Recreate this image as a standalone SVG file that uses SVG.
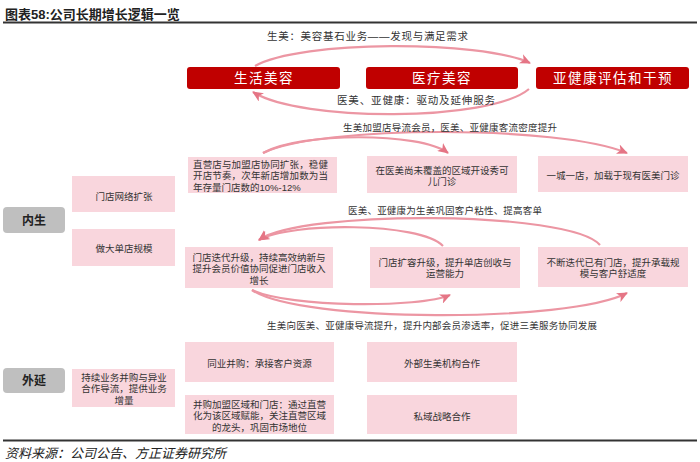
<svg xmlns="http://www.w3.org/2000/svg" width="700" height="462" viewBox="0 0 700 462">
<style>
text{font-family:"Liberation Sans","Noto Sans CJK SC",sans-serif;fill:#333;}
.red{fill:#C00000;}
.redt{fill:#fff;font-size:13.5px;letter-spacing:1.5px;text-anchor:middle;}
.pink{fill:#F9D6DD;}
.bt{font-size:9.5px;text-anchor:middle;}
.gray{fill:#BFBFBF;}
.gt{font-size:12px;text-anchor:middle;fill:#222;font-weight:bold;}
.lab{font-size:10.5px;}
.lab2{font-size:9.5px;}
.arc{fill:none;stroke:#EC96A3;stroke-width:2.2;marker-end:url(#ah);}
.rule{stroke:#333;stroke-width:2;}
</style>
<defs>
<marker id="ah" markerUnits="userSpaceOnUse" markerWidth="12" markerHeight="10" refX="10" refY="5" orient="auto" viewBox="0 0 12 10">
<path d="M0,0 L11,5 L0,10 L3,5 z" fill="#E57585"/>
</marker>
</defs>
<rect width="700" height="462" fill="#fff"/>
<g id="title">
<text x="5" y="19" style="font-size:13px;font-weight:bold;fill:#222">图表58:公司长期增长逻辑一览</text>
<line class="rule" x1="3" y1="22.5" x2="697" y2="22.5"/>
</g>
<g id="connectors">
<path class="arc" d="M255 66 C300 40,480 40,530 63"/>
<path class="arc" d="M529 89 C490 122,300 122,253 92"/>
<path class="arc" d="M263 153 C300 132,420 132,448 153"/>
<path class="arc" d="M263 153 C320 125,560 125,627 153"/>
<path class="arc" d="M443 246 C420 222,290 222,259 240"/>
<path class="arc" d="M600 245 C570 210,300 210,259 240"/>
<path class="arc" d="M252 290 C290 308,420 308,450 295"/>
<path class="arc" d="M252 290 C300 323,570 323,627 293"/>
</g>
<g id="labels">
<text class="lab" x="267" y="40" textLength="201" lengthAdjust="spacing">生美：美容基石业务——发现与满足需求</text>
<text class="lab" x="337" y="103.5" textLength="158" lengthAdjust="spacing">医美、亚健康：驱动及延伸服务</text>
<text class="lab2" x="343" y="130.5" textLength="214" lengthAdjust="spacing">生美加盟店导流会员，医美、亚健康客流密度提升</text>
<text class="lab2" x="348" y="213.5" textLength="194" lengthAdjust="spacing">医美、亚健康为生美巩固客户粘性、提高客单</text>
<text class="lab2" x="267" y="328.5" textLength="330" lengthAdjust="spacing">生美向医美、亚健康导流提升，提升内部会员渗透率，促进三美服务协同发展</text>
</g>
<g id="n-shenghuo"><rect class="red" x="187" y="67" width="153" height="22" rx="3"/><text class="redt" x="264" y="83">生活美容</text></g>
<g id="n-yiliao"><rect class="red" x="366" y="67" width="152" height="22" rx="3"/><text class="redt" x="442" y="83">医疗美容</text></g>
<g id="n-yajiankang"><rect class="red" x="536" y="67" width="153" height="22" rx="3"/><text class="redt" x="613" y="83">亚健康评估和干预</text></g>

<g id="n-neisheng"><rect class="gray" x="3" y="207" width="62" height="26" rx="4"/><text class="gt" x="34" y="224.5">内生</text></g>
<g id="n-waiyan"><rect class="gray" x="3" y="368" width="62" height="25" rx="4"/><text class="gt" x="34" y="385">外延</text></g>

<g id="n-mdwl"><rect class="pink" x="72" y="176" width="103" height="36"/><text class="bt" x="124" y="199.5">门店网络扩张</text></g>
<g id="n-zdgm"><rect class="pink" x="72" y="229" width="103" height="37"/><text class="bt" x="124" y="252">做大单店规模</text></g>
<g id="n-cxbg"><rect class="pink" x="72" y="369" width="103" height="38"/><text class="bt" y="380.5"><tspan x="124">持续业务并购与异业</tspan><tspan x="124" dy="11.5">合作导流，提供业务</tspan><tspan x="124" dy="11.5">增量</tspan></text></g>

<g id="n-zyd"><rect class="pink" x="188" y="157" width="149" height="36"/>
<text class="bt" y="167.5" style="text-anchor:start"><tspan x="193" textLength="135" lengthAdjust="spacing">直营店与加盟店协同扩张，稳健</tspan><tspan x="193" dy="11.5" textLength="135" lengthAdjust="spacing">开店节奏，次年新店增加数为当</tspan><tspan x="193" dy="11.5">年存量门店数的10%-12%</tspan></text></g>
<g id="n-xke"><rect class="pink" x="367" y="156" width="150" height="37"/><text class="bt" y="173.5"><tspan x="442">在医美尚未覆盖的区域开设秀可</tspan><tspan x="442" dy="11.3">儿门诊</tspan></text></g>
<g id="n-ycyd"><rect class="pink" x="538" y="156" width="150" height="36"/><text class="bt" x="613" y="178.5">一城一店，加载于现有医美门诊</text></g>

<g id="n-mddd"><rect class="pink" x="185" y="247" width="148" height="41"/><text class="bt" y="260.5"><tspan x="259">门店迭代升级，持续高效纳新与</tspan><tspan x="259" dy="11.5">提升会员价值协同促进门店收入</tspan><tspan x="259" dy="11.5">增长</tspan></text></g>
<g id="n-mdkr"><rect class="pink" x="370" y="247" width="150" height="41"/><text class="bt" y="266"><tspan x="445">门店扩容升级，提升单店创收与</tspan><tspan x="445" dy="11.3">运营能力</tspan></text></g>
<g id="n-bddd"><rect class="pink" x="538" y="247" width="150" height="40"/><text class="bt" y="266"><tspan x="613">不断迭代已有门店，提升承载规</tspan><tspan x="613" dy="11.3">模与客户舒适度</tspan></text></g>

<g id="n-tybg"><rect class="pink" x="185" y="342" width="149" height="40"/><text class="bt" x="259.5" y="366.5">同业并购：承接客户资源</text></g>
<g id="n-wbsm"><rect class="pink" x="367" y="342" width="150" height="40"/><text class="bt" x="442" y="366.5">外部生美机构合作</text></g>
<g id="n-bgjm"><rect class="pink" x="185" y="395" width="149" height="39"/><text class="bt" y="407.5"><tspan x="259.5">并购加盟区域和门店：通过直营</tspan><tspan x="259.5" dy="11.5">化为该区域赋能，关注直营区域</tspan><tspan x="259.5" dy="11.5">的龙头，巩固市场地位</tspan></text></g>
<g id="n-sy"><rect class="pink" x="367" y="395" width="150" height="39"/><text class="bt" x="442" y="419.5">私域战略合作</text></g>

<g id="footer">
<line class="rule" x1="3" y1="440.5" x2="697" y2="440.5"/>
<text x="5" y="457.5" style="font-size:13px;font-style:italic;fill:#222">资料来源：公司公告、方正证券研究所</text>
</g>
</svg>
